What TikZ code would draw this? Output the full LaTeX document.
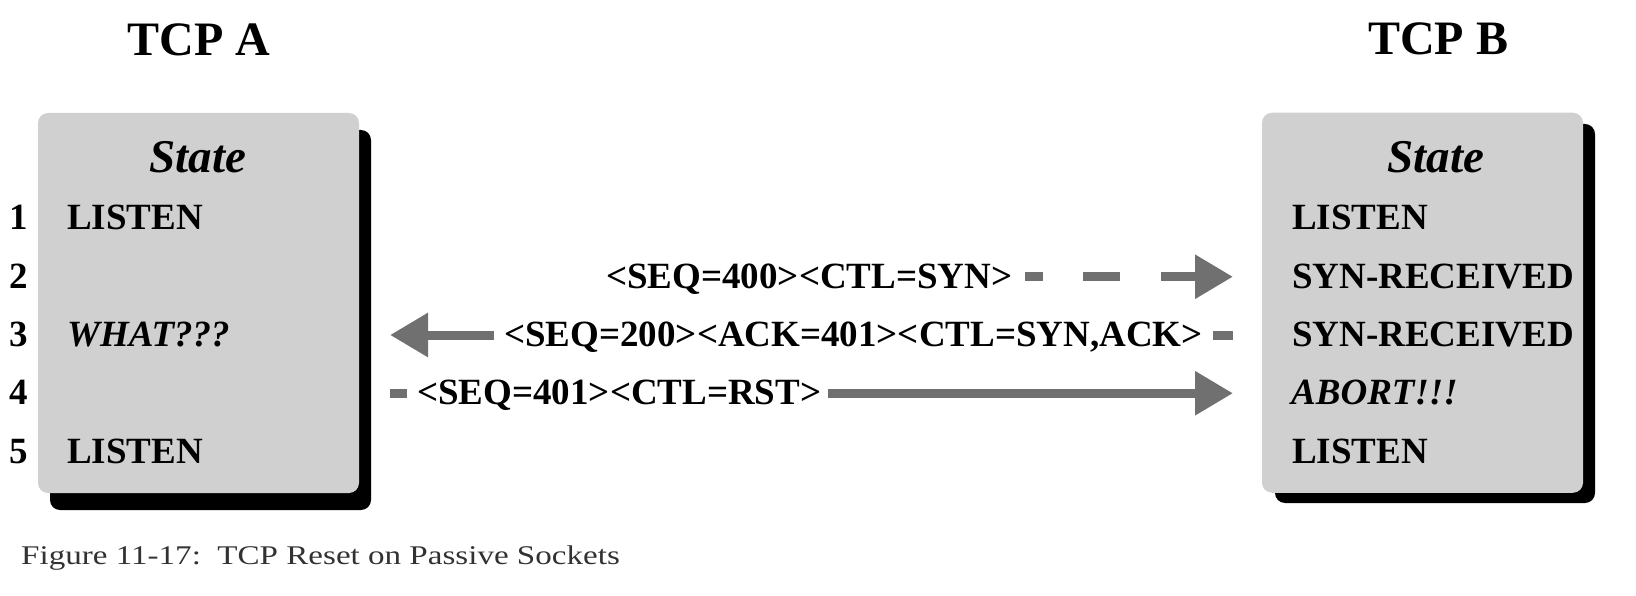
\documentclass[tikz,border=0pt]{standalone}
\usepackage{fontspec}
\setmainfont{Liberation Serif}
\usetikzlibrary{arrows.meta}
\definecolor{boxgray}{RGB}{208,208,208}
\definecolor{arrowgray}{RGB}{112,112,112}
\definecolor{capgray}{RGB}{50,50,50}
\begin{document}
\begin{tikzpicture}[x=1pt,y=-1pt,
  title/.style={font=\fontsize{48}{50}\selectfont\bfseries, anchor=base, inner sep=0},
  statehead/.style={font=\fontsize{47}{50}\selectfont\bfseries\itshape, anchor=base, inner sep=0},
  rowtxt/.style={font=\fontsize{37}{40}\selectfont\bfseries, anchor=base west, inner sep=0},
  rowital/.style={rowtxt, font=\fontsize{37}{40}\selectfont\bfseries\itshape},
  numtxt/.style={font=\fontsize{37}{40}\selectfont\bfseries, anchor=base, inner sep=0},
  msg/.style={font=\fontsize{37}{40}\selectfont\bfseries, inner sep=0, text height=26pt, text depth=3pt, anchor=west},
  conn/.style={draw=arrowgray, line width=9pt},
  msgtip/.style={-{Triangle[length=38pt,width=42pt]}},
  statebox/.style={fill=boxgray, rounded corners=10pt, inner sep=0},
  shadowbox/.style={fill=black, rounded corners=10pt},
  captxt/.style={font=\fontsize{27}{30}\selectfont, text=capgray, anchor=base west, inner sep=0},
]
\useasboundingbox (0,0) rectangle (1636,596);

% titles
\node[title] (tA) at (199,56) {TCP A};
\node[title] (tB) at (1438,55) {TCP B};

% boxes with shadows
\fill[shadowbox] (50,130) rectangle (371,510);
\fill[shadowbox] (1275,124) rectangle (1595,503);
\node[statebox, minimum width=321pt, minimum height=380pt] (boxA) at (198.5,303) {};
\node[statebox, minimum width=321pt, minimum height=380pt] (boxB) at (1422.5,302.75) {};

\node[statehead] (sA) at (198,173) {State};
\node[statehead] (sB) at (1436,173) {State};

% row numbers
\node[numtxt] (n1) at (18.5,230) {1};
\node[numtxt] (n2) at (18.5,288.25) {2};
\node[numtxt] (n3) at (18.5,346.5) {3};
\node[numtxt] (n4) at (18.5,404.75) {4};
\node[numtxt] (n5) at (18.5,463) {5};

% TCP A states
\node[rowtxt] (a1) at (67,230) {LISTEN};
\node[rowital] (a3) at (67,346.5) {WHAT???};
\node[rowtxt] (a5) at (67,463) {LISTEN};

% TCP B states
\node[rowtxt] (b1) at (1292,230) {LISTEN};
\node[rowtxt] (b2) at (1292,288.25) {SYN-RECEIVED};
\node[rowtxt] (b3) at (1292,346.5) {SYN-RECEIVED};
\node[rowital] (b4) at (1291,404.75) {ABORT!!!};
\node[rowtxt] (b5) at (1292,463) {LISTEN};

% messages
\node[msg] (m2) at (606,276.75) {<SEQ=400><CTL=SYN>};
\node[msg] (m3) at (504,335) {<SEQ=200><ACK=401><CTL=SYN,ACK>};
\node[msg] (m4) at (417,393.25) {<SEQ=401><CTL=RST>};

\coordinate (r2) at (1233,276.75);
\coordinate (l3) at (390,335);
\coordinate (r3) at (1233,335);
\coordinate (l4) at (390,393.25);
\coordinate (r4) at (1233,393.25);

\draw[conn, msgtip, shorten <=12pt, dash pattern=on 18pt off 40pt on 37pt off 41pt on 400pt] (m2.east) -- (r2);
\draw[conn, msgtip, shorten <=10pt] (m3.west) -- (l3);
\draw[conn, shorten >=10pt] (r3) -- (m3.east);
\draw[conn, shorten >=10pt] (l4) -- (m4.west);
\draw[conn, msgtip, shorten <=6pt] (m4.east) -- (r4);

% caption
\node[captxt] (cap) at (21,564) {\scalebox{1.225}[1]{Figure 11-17:\ \ TCP Reset on Passive Sockets}};
\end{tikzpicture}
\end{document}
